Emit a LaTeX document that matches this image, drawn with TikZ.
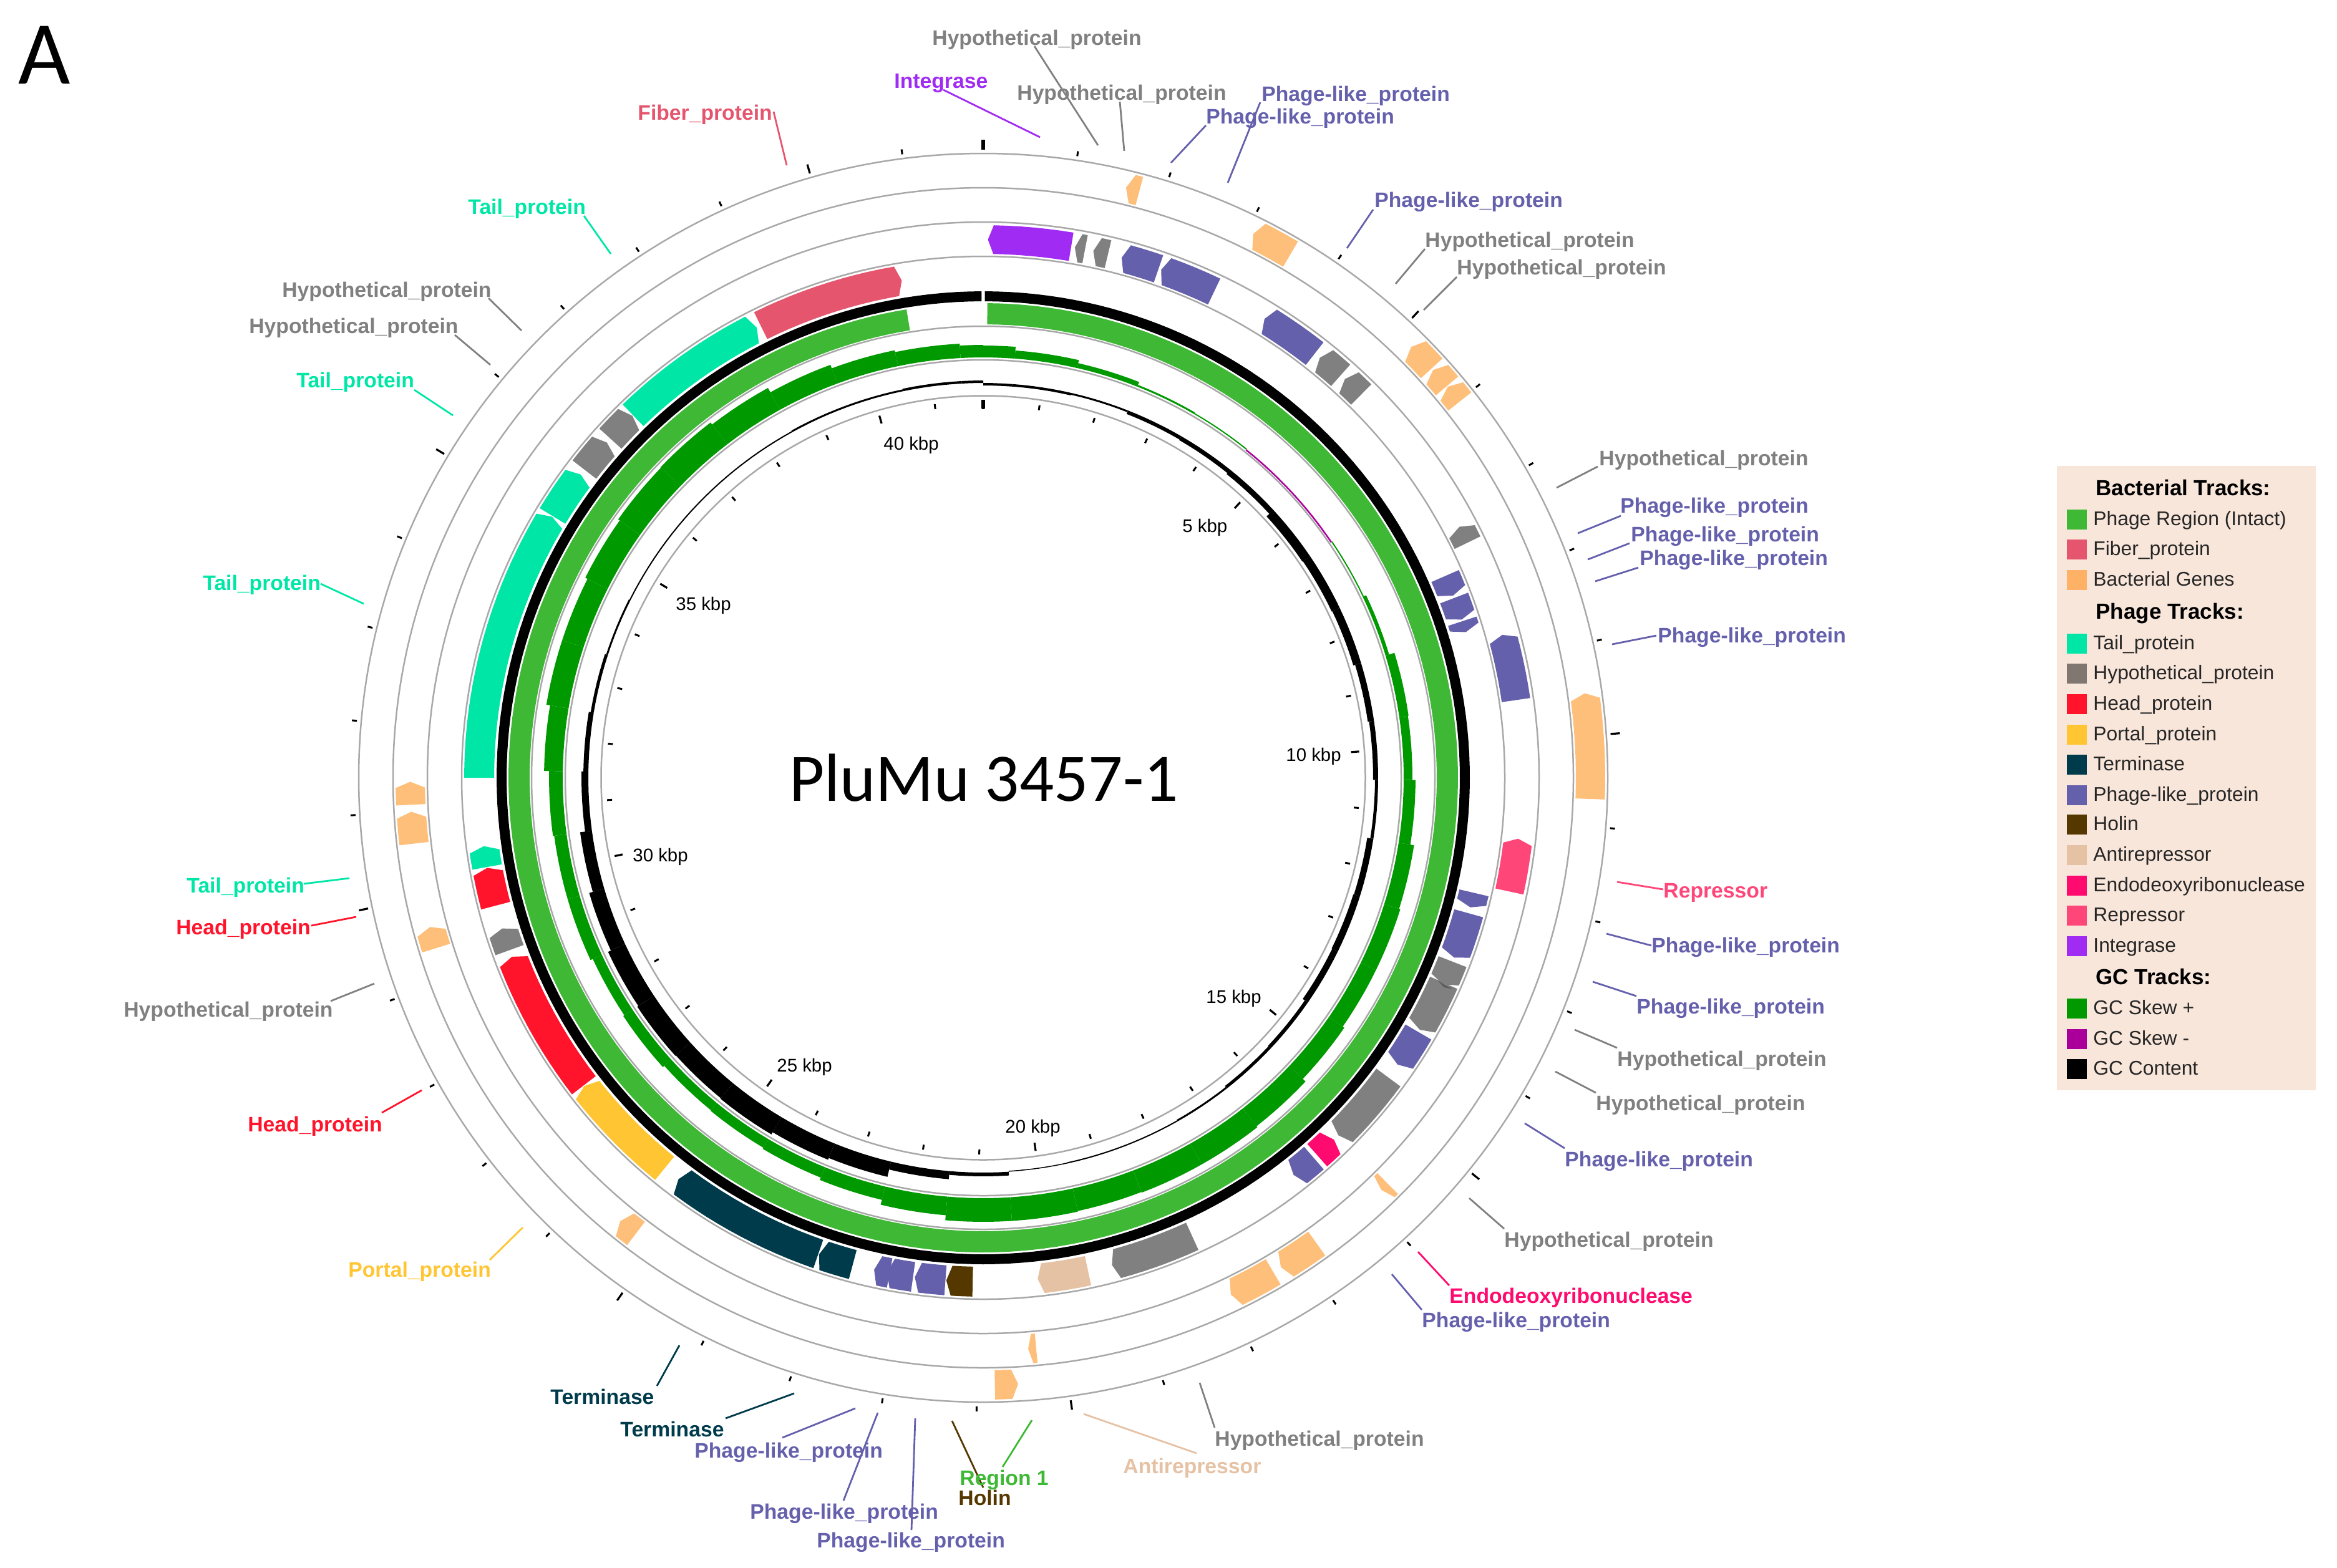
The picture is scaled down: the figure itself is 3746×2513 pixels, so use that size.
\documentclass[tikz,border=0pt]{standalone}
\usepackage{fontspec}
\setmainfont{Liberation Sans}
\newfontfamily\califont{Carlito}
\definecolor{cRegion}{HTML}{3FB836}
\definecolor{cFiber}{HTML}{E5566E}
\definecolor{cBact}{HTML}{FEBF7A}
\definecolor{cBactL}{HTML}{FFB266}
\definecolor{cTail}{HTML}{00E6A6}
\definecolor{cHyp}{HTML}{808080}
\definecolor{cHypL}{HTML}{7F7770}
\definecolor{cHead}{HTML}{FF142B}
\definecolor{cPortal}{HTML}{FFC533}
\definecolor{cTerm}{HTML}{003B4C}
\definecolor{cPhage}{HTML}{6560AC}
\definecolor{cHolin}{HTML}{553700}
\definecolor{cAnti}{HTML}{E6C2A5}
\definecolor{cEndo}{HTML}{FF0A6E}
\definecolor{cRep}{HTML}{FF4678}
\definecolor{cInt}{HTML}{A02BF2}
\definecolor{cSkewP}{HTML}{009900}
\definecolor{cSkewN}{HTML}{AA0099}
\definecolor{cRing}{HTML}{A8A8A8}
\definecolor{cLegend}{HTML}{F9E6DA}
\definecolor{cLegText}{HTML}{262626}
% annular segment: r1 r2 a b colour
\newcommand\annseg[5]{%
  \pgfmathsetmacro\gN{int(2+abs(#4-#3)/1.5)}%
  \fill[#5] plot[domain=#3:#4,samples=\gN] ({\x-90}:#2) -- plot[domain=#4:#3,samples=\gN] ({\x-90}:#1) -- cycle;}
% gene arrow: r1 r2 flat-angle tip-angle colour
\newcommand\gene[5]{%
  \pgfmathsetmacro\gS{#4-(#4>#3?1:-1)*min(0.6,0.5*abs(#4-#3))}%
  \pgfmathsetmacro\gN{int(2+abs(\gS-#3)/1.5)}%
  \pgfmathsetmacro\gM{(#1+#2)/2}%
  \fill[#5] plot[domain=#3:\gS,samples=\gN] ({\x-90}:#2) -- ({#4-90}:\gM) -- plot[domain=\gS:#3,samples=\gN] ({\x-90}:#1) -- cycle;}
\newcommand\gA[3]{\gene{840}{886}{#1}{#2}{#3}}
\newcommand\gB[3]{\gene{784}{832}{#1}{#2}{#3}}
\newcommand\gC[2]{\gene{895}{942}{#1}{#2}{cBact}}
\newcommand\gD[2]{\gene{950}{997}{#1}{#2}{cBact}}
% label with leader: id colour x y text x1 y1 x2 y2
\newcommand\lab[9]{%
  \coordinate (#1a) at (#6,#7);\coordinate (#1b) at (#8,#9);
  \draw[leader,draw=#2] (#1a) -- (#1b);
  \node[lbl,text=#2] (#1) at (#3,#4) {#5};}
% legend row
\newcommand\legrow[4]{%
  \node[swatch,fill=#2] (#1s) at (3329,#3) {};
  \node[legtxt] (#1) at (3355,#3) {#4};}
\newcommand\leghead[3]{\node[leghd] (#1) at (3359,#2) {#3};}
\newcommand\ticklab[4]{\node[ticktxt] (#1) at (#2,#3) {#4};}
\tikzset{
  lbl/.style={anchor=west,inner sep=0pt,yshift=-1pt,font=\bfseries\fontsize{16.85}{20}\selectfont,text height=12pt,text depth=3.6pt},
  leader/.style={line width=1.4pt},
  ring/.style={draw=cRing,line width=1.25pt},
  swatch/.style={minimum width=16pt,minimum height=16pt,inner sep=0pt,draw=none},
  legtxt/.style={anchor=west,inner sep=0pt,yshift=-0.8pt,text=cLegText,font=\fontsize{15.9}{19}\selectfont,text height=11.5pt,text depth=3.4pt},
  leghd/.style={anchor=west,inner sep=0pt,yshift=-0.8pt,text=black,font=\bfseries\fontsize{17.5}{21}\selectfont,text height=12.5pt,text depth=3.6pt},
  ticktxt/.style={anchor=west,inner sep=0pt,yshift=-1pt,text=black,font=\fontsize{14.7}{18}\selectfont,text height=10.6pt,text depth=3pt},
}
\begin{document}
\begin{tikzpicture}[x=0.5pt,y=-0.5pt]
\path[use as bounding box] (0,0) rectangle (3746,2513);
\begin{scope}[shift={(1576,1247)}]
  % rings
  \foreach \r in {612.5,670,724,836,891,946,1001}{\draw[ring] (0,0) circle[radius=\r];}
  % phage region and outer GC ring
  \annseg{764}{780}{0.2}{359.8}{black}
  \annseg{727}{761}{0.5}{350.7}{cRegion}
  % GC skew windows (1 kbp)
  \foreach \k/\amp in {0/19,1/13,2/8,3/3,4/2,7/2,8/6,9/15,10/14,11/19,12/25,13/27,14/27,15/30,16/36,17/38,18/38,19/37,20/38,21/38,22/30,23/22,24/18,25/16,26/15,27/18,28/16,29/20,30/20,31/22,32/30,33/36,34/36,35/40,36/43,37/44,38/40,39/32,40/26,41/23,42/20}{
    \pgfmathsetmacro\aa{max(0,(\k-0.5)*8.6)}
    \pgfmathsetmacro\bb{min(360,(\k+0.5)*8.6)}
    \pgfmathsetmacro\rr{674+\amp}
    \annseg{674}{\rr}{\aa}{\bb}{cSkewP}
  }
  \annseg{672.5}{675}{38.7}{55.9}{cSkewN}
  % GC content windows (1 kbp)
  \foreach \k/\amp in {0/-4,1/-4,2/-3,3/-6,4/-7,5/-9,6/-15,7/-14,8/-13,9/-10,10/-8,11/-5,12/-10,13/-11,14/-10,15/-6,16/-5,17/-3,18/-2,19/-2,20/-1.5,21/6,22/13,23/25,24/28,25/32,26/31,27/32,28/30,29/25,30/19,31/11,32/8,33/5,34/3,35/2,36/2,37/2,38/2,39/3,40/3,41/4,42/4}{
    \pgfmathsetmacro\aa{max(0,(\k-0.5)*8.6)}
    \pgfmathsetmacro\bb{min(360,(\k+0.5)*8.6)}
    \pgfmathsetmacro\rmn{min(633,633+\amp)}
    \pgfmathsetmacro\rmx{max(633,633+\amp)}
    \annseg{\rmn}{\rmx}{\aa}{\bb}{black}
  }
  % ticks
  \foreach \k in {0,...,41}{
    \pgfmathsetmacro\th{\k*8.6-90}
    \pgfmathtruncatemacro\md{mod(\k,5)}
    \ifnum\md=0
      \draw[black,line width=1.6pt] (\th:591) -- (\th:604);
      \draw[black,line width=1.6pt] (\th:1008) -- (\th:1023);
    \else
      \draw[black,line width=1.5pt] (\th:596) -- (\th:604);
      \draw[black,line width=1.5pt] (\th:1008) -- (\th:1016);
    \fi
  }
  \draw[black,line width=3pt] (-90:592) -- (-90:606);
  \draw[black,line width=3pt] (-90:1007) -- (-90:1023);
  % ring A genes
  \gA{9.4}{0.5}{cInt}
  \gA{10.9}{9.8}{cHyp}
  \gA{13.4}{11.8}{cHyp}
  \gA{19.0}{14.9}{cPhage}
  \gA{25.4}{19.3}{cPhage}
  \gA{38}{31.5}{cPhage}
  \gA{41.6}{38.7}{cHyp}
  \gA{44.6}{42.2}{cHyp}
  \gA{64.1}{62.2}{cHyp}
  \gA{81.7}{74.6}{cPhage}
  \gA{102.2}{96.5}{cRep}
  % ring B genes
  \gB{66.4}{68.8}{cPhage}
  \gB{69.1}{71.7}{cPhage}
  \gB{71.9}{73.2}{cPhage}
  \gB{103.2}{104.9}{cPhage}
  \gB{105.6}{110.9}{cPhage}
  \gB{111.4}{114.2}{cHyp}
  \gB{114.0}{120}{cHyp}
  \gB{120.3}{124.7}{cPhage}
  \gB{126.5}{135.2}{cHyp}
  \gB{138.5}{135.9}{cEndo}
  \gB{139}{142}{cPhage}
  \gB{155.5}{165.2}{cHyp}
  \gB{168}{173.8}{cAnti}
  \gB{181.2}{184.2}{cHolin}
  \gB{184.3}{187.8}{cPhage}
  \gB{190.7}{192.5}{cPhage}
  \gB{188}{191}{cPhage}
  \gB{195}{199}{cTerm}
  \gB{199.1}{217.2}{cTerm}
  \gB{219.2}{232.3}{cPortal}
  \gB{232.4}{249.2}{cHead}
  \gB{250}{252.6}{cHyp}
  \gB{255.3}{259.7}{cHead}
  \gB{259.8}{262.2}{cTail}
  \gB{270}{301.2}{cTail}
  \gB{301.3}{307}{cTail}
  \gB{307.7}{311.7}{cHyp}
  \gB{312.3}{315.9}{cHyp}
  \gB{316}{333.3}{cTail}
  \gB{333.8}{350.7}{cFiber}
  % overlap sliver of the two grey genes
  \fill[black!65] (114.0-90:796) -- (114.2-90:812) -- (114.2-90:826) -- (114.45-90:812) -- cycle;
  % outer bacterial ring
  \gD{14.9}{13.6}
  \gD{30.4}{26.4}
  \gD{47.6}{44.8}
  \gD{49.8}{47.8}
  \gD{51.7}{49.9}
  \gD{92}{82}
  \gD{178.9}{176.7}
  % second bacterial ring
  \gC{135.1}{136}
  \gC{144.4}{148.7}
  \gC{149.6}{154.4}
  \gC{174.7}{175.5}
  \gC{217.3}{219.3}
  \gC{252.7}{254.9}
  \gC{263.4}{266.6}
  \gC{267.3}{269.6}
\end{scope}
% tick labels
\ticklab{t5}{1895}{844}{5 kbp}
\ticklab{t10}{2061}{1211}{10 kbp}
\ticklab{t15}{1933}{1599}{15 kbp}
\ticklab{t20}{1611}{1807}{20 kbp}
\ticklab{t25}{1245}{1709}{25 kbp}
\ticklab{t30}{1014}{1372}{30 kbp}
\ticklab{t35}{1083}{969}{35 kbp}
\ticklab{t40}{1416}{712}{40 kbp}
% titles
\node[inner sep=0pt,font=\califont\fontsize{54.5}{60}\selectfont] (title) at (1577,1247) {PluMu 3457-1};
\node[inner sep=0pt,font=\califont\fontsize{72}{79}\selectfont] (panel) at (71,88) {A};
% labels with leaders
\lab{la}{cHyp}{1494}{62}{Hypothetical\_protein}{1658}{74}{1760}{233}
\lab{lb}{cInt}{1433}{131}{Integrase}{1512}{144}{1667}{220}
\lab{lc}{cHyp}{1630}{150}{Hypothetical\_protein}{1795}{163}{1802}{242}
\lab{ld}{cPhage}{2022}{152}{Phage-like\_protein}{2020}{164}{1968}{293}
\lab{le}{cPhage}{1933}{188}{Phage-like\_protein}{1933}{201}{1877}{261}
\lab{lf}{cPhage}{2203}{322}{Phage-like\_protein}{2201}{336}{2159}{398}
\lab{lg}{cHyp}{2284}{386}{Hypothetical\_protein}{2284}{399}{2237}{455}
\lab{lh}{cHyp}{2335}{430}{Hypothetical\_protein}{2335}{444}{2282}{497}
\lab{li}{cHyp}{2563}{736}{Hypothetical\_protein}{2561}{748}{2495}{782}
\lab{lj}{cPhage}{2597}{812}{Phage-like\_protein}{2598}{827}{2529}{855}
\lab{lk}{cPhage}{2614}{858}{Phage-like\_protein}{2612}{871}{2545}{897}
\lab{ll}{cPhage}{2628}{896}{Phage-like\_protein}{2626}{910}{2557}{932}
\lab{lm}{cPhage}{2657}{1020}{Phage-like\_protein}{2655}{1019}{2584}{1033}
\lab{ln}{cRep}{2666}{1429}{Repressor}{2666}{1426}{2592}{1414}
\lab{lo}{cPhage}{2647}{1517}{Phage-like\_protein}{2647}{1516}{2575}{1497}
\lab{lp}{cPhage}{2623}{1615}{Phage-like\_protein}{2623}{1597}{2553}{1574}
\lab{lq}{cHyp}{2592}{1699}{Hypothetical\_protein}{2592}{1680}{2524}{1651}
\lab{lr}{cHyp}{2558}{1770}{Hypothetical\_protein}{2558}{1752}{2493}{1718}
\lab{ls}{cPhage}{2508}{1860}{Phage-like\_protein}{2508}{1841}{2444}{1801}
\lab{lt}{cHyp}{2411}{1989}{Hypothetical\_protein}{2411}{1970}{2355}{1921}
\lab{lu}{cEndo}{2323}{2079}{Endodeoxyribonuclease}{2323}{2061}{2273}{2007}
\lab{lv}{cPhage}{2279}{2118}{Phage-like\_protein}{2279}{2100}{2231}{2043}
\lab{lw}{cHyp}{1947}{2308}{Hypothetical\_protein}{1947}{2289}{1923}{2217}
\lab{lx}{cAnti}{1800}{2352}{Antirepressor}{1737}{2267}{1918}{2330}
\lab{ly}{cHolin}{1536}{2403}{Holin}{1526}{2278}{1576}{2385}
\lab{lz}{cRegion}{1538}{2371}{Region 1}{1607}{2352}{1654}{2277}
\lab{ma}{cPhage}{1309}{2471}{Phage-like\_protein}{1467}{2274}{1461}{2453}
\lab{mb}{cPhage}{1202}{2425}{Phage-like\_protein}{1352}{2406}{1407}{2265}
\lab{mc}{cPhage}{1113}{2327}{Phage-like\_protein}{1254}{2305}{1371}{2258}
\lab{md}{cTerm}{994}{2293}{Terminase}{1163}{2274}{1273}{2234}
\lab{me}{cTerm}{882}{2241}{Terminase}{1053}{2222}{1089}{2157}
\lab{mf}{cPortal}{558}{2037}{Portal\_protein}{785}{2020}{838}{1968}
\lab{mg}{cHead}{397}{1804}{Head\_protein}{612}{1784}{676}{1748}
\lab{mh}{cHyp}{198}{1620}{Hypothetical\_protein}{530}{1605}{600}{1577}
\lab{mi}{cHead}{282}{1488}{Head\_protein}{499}{1484}{571}{1470}
\lab{mj}{cTail}{299}{1421}{Tail\_protein}{487}{1417}{560}{1408}
\lab{mk}{cTail}{325}{936}{Tail\_protein}{514}{936}{583}{968}
\lab{ml}{cTail}{475}{611}{Tail\_protein}{664}{625}{726}{666}
\lab{mm}{cHyp}{399}{524}{Hypothetical\_protein}{729}{537}{786}{585}
\lab{mn}{cHyp}{452}{466}{Hypothetical\_protein}{783}{478}{836}{530}
\lab{mo}{cTail}{750}{333}{Tail\_protein}{936}{346}{979}{407}
\lab{mp}{cFiber}{1022}{182}{Fiber\_protein}{1240}{179}{1261}{265}
% legend
\fill[cLegend] (3297,747) rectangle (3712,1748);
\leghead{h1}{784}{Bacterial Tracks:}
\legrow{r1}{cRegion}{833}{Phage Region (Intact)}
\legrow{r2}{cFiber}{881}{Fiber\_protein}
\legrow{r3}{cBactL}{930}{Bacterial Genes}
\leghead{h2}{982}{Phage Tracks:}
\legrow{r4}{cTail}{1032}{Tail\_protein}
\legrow{r5}{cHypL}{1080}{Hypothetical\_protein}
\legrow{r6}{cHead}{1129}{Head\_protein}
\legrow{r7}{cPortal}{1178}{Portal\_protein}
\legrow{r8}{cTerm}{1226}{Terminase}
\legrow{r9}{cPhage}{1275}{Phage-like\_protein}
\legrow{r10}{cHolin}{1322}{Holin}
\legrow{r11}{cAnti}{1371}{Antirepressor}
\legrow{r12}{cEndo}{1420}{Endodeoxyribonuclease}
\legrow{r13}{cRep}{1468}{Repressor}
\legrow{r14}{cInt}{1517}{Integrase}
\leghead{h3}{1568}{GC Tracks:}
\legrow{r15}{cSkewP}{1617}{GC Skew +}
\legrow{r16}{cSkewN}{1666}{GC Skew -}
\legrow{r17}{black}{1714}{GC Content}
\end{tikzpicture}
\end{document}
